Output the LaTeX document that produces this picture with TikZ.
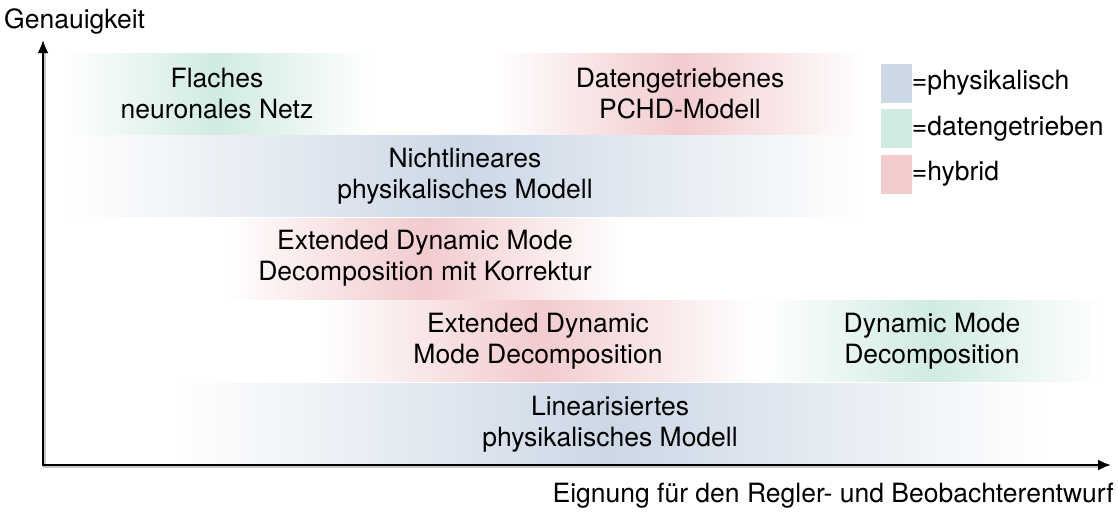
\documentclass[tikz,border=0pt]{standalone}
\usepackage{fontspec}
\setmainfont{TeX Gyre Heros}
\usetikzlibrary{arrows.meta}

\definecolor{physblue}{RGB}{204,216,230}
\definecolor{datagreen}{RGB}{208,235,226}
\definecolor{hybridred}{RGB}{242,203,205}

\tikzset{
  lbl/.style={font=\fontsize{26.5}{31}\selectfont, align=center, text=black, inner sep=0pt},
  band/.style={lbl, minimum height=81pt, left color=white, right color=white, middle color=#1},
  key/.style={minimum width=31pt, minimum height=39pt, inner sep=0pt, fill=#1},
  axisline/.style={line width=2.2pt, {Latex[length=13pt,width=11pt]}-{Latex[length=13pt,width=11pt]}},
  axisshadow/.style={line width=2.2pt, gray!45},
}

\begin{document}
\begin{tikzpicture}[x=1pt, y=-1pt]
\useasboundingbox (0,0) rectangle (1118,515);

% model bands, one row per accuracy level
\node[band=datagreen, minimum width=310pt] (flat) at (217,93.5) {Flaches\\neuronales Netz};
\node[band=hybridred, minimum width=370pt] (pchd) at (680,93.5) {Datengetriebenes\\PCHD-Modell};
\node[band=physblue, minimum width=805pt] (nonlin) at (465,176.1) {Nichtlineares\\physikalisches Modell};
\node[band=hybridred, minimum width=400pt] (edmdk) at (425,258.7) {Extended Dynamic Mode\\Decomposition mit Korrektur};
\node[band=hybridred, minimum width=440pt] (edmd) at (538,341.3) {Extended Dynamic\\Mode Decomposition};
\node[band=datagreen, minimum width=340pt] (dmd) at (932,341.3) {Dynamic Mode\\Decomposition};
\node[band=physblue, minimum width=880pt] (lin) at (610,423.9) {Linearisiertes\\physikalisches Modell};

% legend
\node[key=physblue] (k1) at (896,83) {};
\node[key=datagreen] (k2) at (896,128.5) {};
\node[key=hybridred] (k3) at (896,174) {};
\node[lbl, anchor=west] (t1) at (k1.east) {=physikalisch};
\node[lbl, anchor=west] (t2) at (k2.east) {=datengetrieben};
\node[lbl, anchor=west] (t3) at (k3.east) {=hybrid};

% axes
\coordinate (O) at (43,465);
\coordinate (ytip) at (43,40);
\coordinate (xtip) at (1111,465);
\coordinate (ys) at (44.5,52);
\coordinate (xs) at (1099,466.5);
\draw[axisshadow] (ys) |- (xs);
\draw[axisline] (ytip) |- (xtip);

\node[lbl, anchor=west] (ylab) at (4,21) {Genauigkeit};
\node[lbl, anchor=east] (xlab) at (1114,496) {Eignung für den Regler- und Beobachterentwurf};
\end{tikzpicture}
\end{document}
